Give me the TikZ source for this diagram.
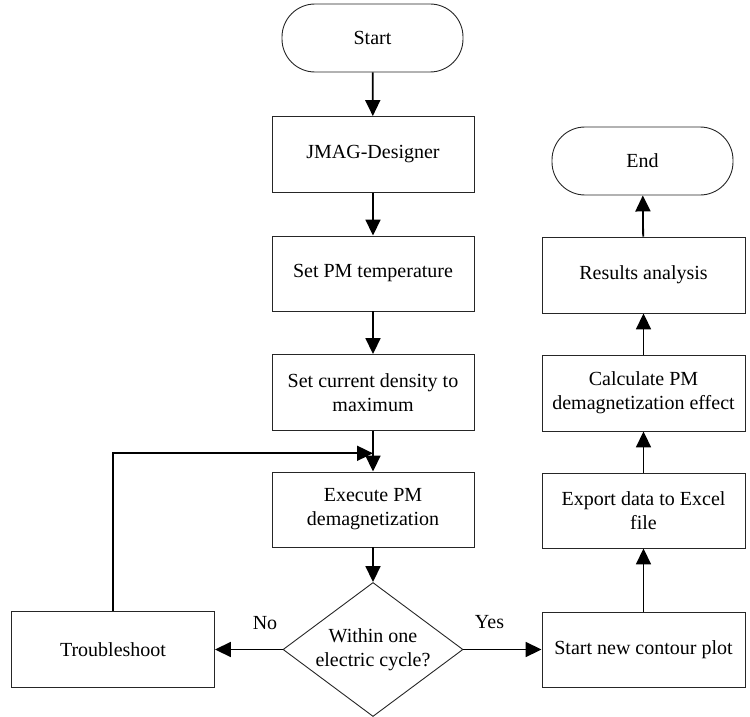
\documentclass[tikz,border=0pt]{standalone}
\usepackage{fontspec}
\setmainfont{Liberation Serif}
\usetikzlibrary{arrows.meta,shapes.geometric}
\begin{document}
\begin{tikzpicture}[x=1pt,y=-1pt,
  every node/.style={font=\fontsize{20}{24}\selectfont},
  procbox/.style={draw=black!85,line width=0.9pt,rectangle,minimum width=202pt,minimum height=76pt,align=center,inner sep=2pt},
  termbox/.style={draw=black!85,line width=0.9pt,rectangle,rounded corners=33pt,minimum width=181pt,minimum height=68pt,align=center},
  decbox/.style={draw=black!85,line width=0.9pt,diamond,aspect=1.343,minimum width=180pt,minimum height=134pt,inner sep=0pt,align=center},
  flow/.style={line width=1.8pt,-{Triangle[width=15pt,length=16pt]}}]
\useasboundingbox (0,0) rectangle (750,717);
\node[termbox] (start) at (372.5,38) {Start};
\node[procbox] (jmag) at (373,154.5) {JMAG-Designer};
\node[procbox,minimum height=75pt] (setpm) at (373,273.5) {Set PM temperature};
\node[procbox] (setcur) at (373,392.5) {Set current density to\\maximum};
\node[procbox,minimum height=75pt] (exec) at (373,509.5) {Execute PM\\demagnetization};
\node[decbox] (dec) at (373,649.5) {Within one\\electric cycle?};
\node[procbox,minimum width=203pt] (trouble) at (113,649.5) {Troubleshoot};
\node[procbox,minimum width=203pt,minimum height=75pt] (contour) at (643.5,649.5) {Start new contour plot};
\node[procbox,minimum width=203pt,minimum height=75pt] (export) at (643.5,510.5) {Export data to Excel\\file};
\node[procbox,minimum width=203pt] (calc) at (643.5,393) {Calculate PM\\demagnetization effect};
\node[procbox,minimum width=203pt] (results) at (643.5,275) {Results analysis};
\node[termbox] (end) at (642.5,161) {End};
\coordinate (loopc) at (373,453.3);
\draw[flow] (start) -- (jmag);
\draw[flow] (jmag) -- (setpm);
\draw[flow] (setpm) -- (setcur);
\draw[flow] (setcur) -- (exec);
\draw[flow] (exec) -- (dec);
\draw[flow] (dec) -- (trouble);
\draw[flow] (dec) -- (contour);
\draw[flow] (trouble.north) |- (loopc);
\draw[flow] (contour) -- (export);
\draw[flow] (export) -- (calc);
\draw[flow] (calc) -- (results);
\draw[flow] (results) -- (end);
\node (no) at (265,623) {No};
\node (yes) at (489.5,622) {Yes};
\end{tikzpicture}
\end{document}
